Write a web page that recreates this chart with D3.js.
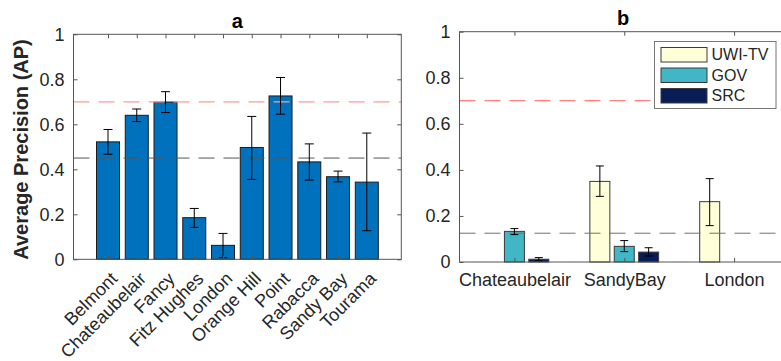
<!DOCTYPE html>
<html>
<head>
<meta charset="utf-8">
<script src="https://cdn.jsdelivr.net/npm/d3@7/dist/d3.min.js"></script>
<style>
  html, body { margin: 0; padding: 0; background: #fff; }
  svg { display: block; font-family: "Liberation Sans", Arial, Helvetica, sans-serif; }
</style>
</head>
<body>
<svg id="chart" width="781" height="361"></svg>
<script>
// ---------- data ----------
const sitesA = ["Belmont", "Chateaubelair", "Fancy", "Fitz Hughes", "London", "Orange Hill", "Point", "Rabacca", "Sandy Bay", "Tourama"];
const apA    = [0.522, 0.640, 0.699, 0.185, 0.062, 0.497, 0.726, 0.433, 0.367, 0.343];
const loA    = [0.467, 0.612, 0.652, 0.142, 0.007, 0.355, 0.645, 0.352, 0.344, 0.127];
const hiA    = [0.577, 0.668, 0.745, 0.226, 0.115, 0.635, 0.808, 0.513, 0.392, 0.561];
const refA   = [0.70, 0.45];

const groupsB = ["Chateaubelair", "SandyBay", "London"];
const seriesB = ["UWI-TV", "GOV", "SRC"];
const uwiB    = [0, 0.350, 0.262];
const uwiLoB  = [null, 0.285, 0.158];
const uwiHiB  = [null, 0.417, 0.362];
const govB    = [0.133, 0.068, 0];
const govLoB  = [0.119, 0.045, null];
const govHiB  = [0.145, 0.093, null];
const srcB    = [0.012, 0.043, 0];
const srcLoB  = [0.005, 0.026, null];
const srcHiB  = [0.019, 0.062, null];
const refB    = [0.70, 0.125];

const yTicks = [0, 0.2, 0.4, 0.6, 0.8, 1];
const yTickLabels = ["0", "0.2", "0.4", "0.6", "0.8", "1"];
const titles = ["a", "b"];
const yLabel = "Average Precision (AP)";

// ---------- helpers ----------
const svg = d3.select("#chart");
const axisCol = "#555";
const textCol = "#262626";

function styleAxis(g) {
  g.select(".domain").remove();
  g.selectAll(".tick line").attr("stroke", axisCol).attr("stroke-width", 1);
  g.selectAll(".tick text").attr("fill", textCol).style("font-size", "18px");
}

function drawFrame(x0, x1, y0, y1) {
  svg.append("rect")
    .attr("x", x0).attr("y", y1).attr("width", x1 - x0).attr("height", y0 - y1)
    .attr("fill", "none").attr("stroke", axisCol).attr("stroke-width", 1);
}

// ---------- panel a ----------
const xA = d3.scaleLinear().domain([-0.2, 11.2]).range([73.5, 401.3]);
const yA = d3.scaleLinear().domain([0, 1]).range([259.3, 34.3]);
const bwA = xA(0.8) - xA(0);

const gA = svg.append("g");
gA.selectAll("rect.bar").data(apA).join("rect")
  .attr("class", "bar")
  .attr("x", (d, i) => xA(i + 1) - bwA / 2)
  .attr("y", d => yA(d))
  .attr("width", bwA)
  .attr("height", d => yA(0) - yA(d))
  .attr("fill", "#0072BD")
  .attr("stroke", "#1c1c1c").attr("stroke-width", 1);

// reference lines
gA.append("line").attr("x1", xA(-0.2)).attr("x2", xA(11.2))
  .attr("y1", yA(refA[0])).attr("y2", yA(refA[0]))
  .attr("stroke", "#ff9a9a").attr("stroke-width", 1.2).attr("stroke-dasharray", "16,9");
gA.append("line").attr("x1", xA(-0.2)).attr("x2", xA(11.2))
  .attr("y1", yA(refA[1])).attr("y2", yA(refA[1]))
  .attr("stroke", "#555").attr("stroke-width", 1).attr("stroke-dasharray", "16,9");

// error bars
const capA = 4.5;
apA.forEach((d, i) => {
  const cx = xA(i + 1);
  const eg = gA.append("g").attr("stroke", "#000").attr("stroke-width", 1);
  eg.append("line").attr("x1", cx).attr("x2", cx).attr("y1", yA(loA[i])).attr("y2", yA(hiA[i]));
  eg.append("line").attr("x1", cx - capA).attr("x2", cx + capA).attr("y1", yA(loA[i])).attr("y2", yA(loA[i]));
  eg.append("line").attr("x1", cx - capA).attr("x2", cx + capA).attr("y1", yA(hiA[i])).attr("y2", yA(hiA[i]));
});

drawFrame(xA(-0.2), xA(11.2), yA(0), yA(1));

// axes a
const posA = sitesA.map((s, i) => i + 1);
svg.append("g").attr("transform", `translate(${xA(-0.2)},0)`)
  .call(d3.axisLeft(yA).tickValues(yTicks).tickFormat((d, i) => yTickLabels[i]).tickSize(-4).tickPadding(9))
  .call(styleAxis);
svg.append("g").attr("transform", `translate(${xA(11.2)},0)`)
  .call(d3.axisRight(yA).tickValues(yTicks).tickFormat("").tickSize(-4))
  .call(styleAxis);
svg.append("g").attr("transform", `translate(0,${yA(1)})`)
  .call(d3.axisTop(xA).tickValues(posA).tickFormat("").tickSize(-4))
  .call(styleAxis);
const axA = svg.append("g").attr("transform", `translate(0,${yA(0)})`)
  .call(d3.axisBottom(xA).tickValues(posA).tickFormat("").tickSize(-4))
  .call(styleAxis);

// rotated labels a
svg.append("g").selectAll("text").data(sitesA).join("text")
  .attr("transform", (d, i) => `translate(${xA(i + 1) + 6},${yA(0) + 16}) rotate(-45)`)
  .attr("text-anchor", "end")
  .attr("dy", "0.35em")
  .attr("fill", textCol)
  .style("font-size", "18px")
  .text(d => d);

// title a
svg.append("text").attr("x", (xA(-0.2) + xA(11.2)) / 2).attr("y", 27.5)
  .attr("text-anchor", "middle").attr("font-weight", "bold").attr("fill", "#000")
  .style("font-size", "20px").text(titles[0]);

// y label
svg.append("text").attr("transform", `translate(28,149.5) rotate(-90)`)
  .attr("text-anchor", "middle").attr("font-weight", "bold").attr("fill", textCol)
  .style("font-size", "20px").text(yLabel);

// ---------- panel b ----------
const xB = d3.scaleLinear().domain([0.5, 3.5]).range([459.5, 789]);
const yB = d3.scaleLinear().domain([0, 1]).range([262, 31.7]);
const colorsB = ["#ffffd9", "#41b6c4", "#081d58"];
const offsB = [-0.222, 0, 0.222];
const bwB = xB(0.182) - xB(0);
const valsB = [uwiB, govB, srcB];
const losB = [uwiLoB, govLoB, srcLoB];
const hisB = [uwiHiB, govHiB, srcHiB];

const gB = svg.append("g");
valsB.forEach((vals, s) => {
  gB.selectAll(null).data(vals.map((v, i) => ({ v, i })).filter(d => d.v > 0)).join("rect")
    .attr("x", d => xB(d.i + 1 + offsB[s]) - bwB / 2)
    .attr("y", d => yB(d.v))
    .attr("width", bwB)
    .attr("height", d => yB(0) - yB(d.v))
    .attr("fill", colorsB[s])
    .attr("stroke", "#3a3a3a").attr("stroke-width", 1);
});

gB.append("line").attr("x1", xB(0.5)).attr("x2", xB(3.5))
  .attr("y1", yB(refB[0])).attr("y2", yB(refB[0]))
  .attr("stroke", "#ff5a5a").attr("stroke-width", 1.1).attr("stroke-dasharray", "16,9");
gB.append("line").attr("x1", xB(0.5)).attr("x2", xB(3.5))
  .attr("y1", yB(refB[1])).attr("y2", yB(refB[1]))
  .attr("stroke", "#707070").attr("stroke-width", 1).attr("stroke-dasharray", "16,9");

const capB = 4;
valsB.forEach((vals, s) => {
  vals.forEach((v, i) => {
    if (losB[s][i] === null) return;
    const cx = xB(i + 1 + offsB[s]);
    const eg = gB.append("g").attr("stroke", "#000").attr("stroke-width", 1);
    eg.append("line").attr("x1", cx).attr("x2", cx).attr("y1", yB(losB[s][i])).attr("y2", yB(hisB[s][i]));
    eg.append("line").attr("x1", cx - capB).attr("x2", cx + capB).attr("y1", yB(losB[s][i])).attr("y2", yB(losB[s][i]));
    eg.append("line").attr("x1", cx - capB).attr("x2", cx + capB).attr("y1", yB(hisB[s][i])).attr("y2", yB(hisB[s][i]));
  });
});

drawFrame(xB(0.5), xB(3.5), yB(0), yB(1));

const posB = groupsB.map((g, i) => i + 1);
svg.append("g").attr("transform", `translate(${xB(0.5)},0)`)
  .call(d3.axisLeft(yB).tickValues(yTicks).tickFormat((d, i) => yTickLabels[i]).tickSize(-4).tickPadding(9))
  .call(styleAxis);
svg.append("g").attr("transform", `translate(0,${yB(1)})`)
  .call(d3.axisTop(xB).tickValues(posB).tickFormat("").tickSize(-4))
  .call(styleAxis);
svg.append("g").attr("transform", `translate(0,${yB(0)})`)
  .call(d3.axisBottom(xB).tickValues(posB).tickFormat((d, i) => groupsB[i]).tickSize(-4).tickPadding(11))
  .call(styleAxis);

svg.append("text").attr("x", 623).attr("y", 25)
  .attr("text-anchor", "middle").attr("font-weight", "bold").attr("fill", "#000")
  .style("font-size", "20px").text(titles[1]);

// legend
const lg = svg.append("g");
lg.append("rect").attr("x", 654.5).attr("y", 41.5).attr("width", 121.5).attr("height", 67)
  .attr("fill", "#fff").attr("stroke", "#777").attr("stroke-width", 1);
seriesB.forEach((name, s) => {
  const yy = 47.5 + s * 20.5;
  lg.append("rect").attr("x", 661).attr("y", yy).attr("width", 46).attr("height", 14.5)
    .attr("fill", colorsB[s]).attr("stroke", "#3a3a3a").attr("stroke-width", 1);
  lg.append("text").attr("x", 711.5).attr("y", yy + 7.25).attr("dy", "0.35em")
    .attr("fill", textCol).style("font-size", "16px").text(name);
});
</script>
</body>
</html>
